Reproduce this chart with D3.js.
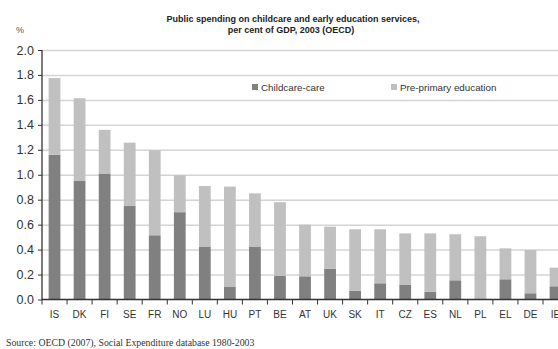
<!DOCTYPE html>
<html>
<head>
<meta charset="utf-8">
<script src="https://cdn.jsdelivr.net/npm/d3@7"></script>
<style>
  html, body { margin: 0; padding: 0; background: #fff; overflow: hidden; }
  svg { display: block; font-family: "Liberation Sans", Arial, sans-serif; }
  .grid line { stroke: #d4d4d4; stroke-width: 1.5; }
  .grid .domain { display: none; }
  .axis text { fill: #333; }
  .axis line, .axis path { stroke: #333; }
</style>
</head>
<body>
<div id="chart"></div>
<script>
// Data
var COUNTRIES = ["IS", "DK", "FI", "SE", "FR", "NO", "LU", "HU", "PT", "BE", "AT",
  "UK", "SK", "IT", "CZ", "ES", "NL", "PL", "EL", "DE", "IE"];
var CHILDCARE = [1.16, 0.95, 1.01, 0.75, 0.515, 0.70, 0.425, 0.10, 0.425, 0.19, 0.186,
  0.247, 0.071, 0.13, 0.12, 0.063, 0.154, 0.0, 0.162, 0.05, 0.106];
var TOTAL = [1.775, 1.613, 1.36, 1.257, 1.196, 0.996, 0.91, 0.905, 0.851, 0.78, 0.60,
  0.584, 0.563, 0.563, 0.53, 0.53, 0.523, 0.507, 0.41, 0.397, 0.255];
var Y_TICKS = [0, 0.2, 0.4, 0.6, 0.8, 1.0, 1.2, 1.4, 1.6, 1.8, 2.0];
var SERIES = ["Childcare-care", "Pre-primary education"];
var COLORS = ["#808080", "#c0c0c0"];

var width = 558, height = 349;
var margins = { top: 50, left: 42, bottom: 49.5 };
var step = 25.05;
var chartWidth = step * COUNTRIES.length;
var chartHeight = height - margins.top - margins.bottom;

var data = COUNTRIES.map(function(c, i) {
  return { country: c, childcare: CHILDCARE[i], preprimary: TOTAL[i] - CHILDCARE[i] };
});

var svg = d3.select("#chart").append("svg")
  .attr("width", width)
  .attr("height", height);

// Title
var title = svg.append("text")
  .attr("text-anchor", "middle")
  .attr("font-size", 9)
  .attr("font-weight", "bold")
  .attr("fill", "#222");
title.append("tspan").attr("x", 293).attr("y", 22)
  .text("Public spending on childcare and early education services,");
title.append("tspan").attr("x", 291).attr("y", 33)
  .text("per cent of GDP, 2003 (OECD)");

svg.append("text")
  .attr("x", 16).attr("y", 33)
  .attr("font-size", 9)
  .attr("fill", "#555")
  .text("%");

var chart = svg.append("g")
  .attr("transform", "translate(" + margins.left + "," + margins.top + ")");

var xScale = d3.scaleBand()
  .domain(COUNTRIES)
  .range([0, chartWidth])
  .paddingInner(0.53)
  .paddingOuter(0.265);

var yScale = d3.scaleLinear()
  .domain([0, 2])
  .range([chartHeight, 0]);

// Grid
chart.append("g")
  .attr("class", "grid")
  .call(d3.axisLeft(yScale).tickValues(Y_TICKS.slice(1)).tickSize(-chartWidth).tickFormat(""));

// Stacked bars
var stack = d3.stack().keys(["childcare", "preprimary"]);
var layers = stack(data);

chart.append("g")
  .selectAll("g")
  .data(layers)
  .enter()
  .append("g")
  .attr("fill", (d, i) => COLORS[i])
  .selectAll("rect")
  .data(d => d)
  .enter()
  .append("rect")
  .attr("x", d => xScale(d.data.country))
  .attr("y", d => yScale(d[1]))
  .attr("width", xScale.bandwidth())
  .attr("height", d => yScale(d[0]) - yScale(d[1]));

// Y axis
var yAxis = chart.append("g")
  .attr("class", "axis")
  .call(d3.axisLeft(yScale).tickValues(Y_TICKS).tickSize(4).tickPadding(4)
    .tickFormat(d3.format(".1f")));
yAxis.selectAll("text").attr("font-size", 12.5);
yAxis.select(".domain").attr("d", "M0,0V" + chartHeight).attr("stroke-width", 1.3);

// X axis: ticks between categories
var xAxis = chart.append("g")
  .attr("class", "axis")
  .attr("transform", "translate(0," + chartHeight + ")")
  .call(d3.axisBottom(xScale).tickSize(0).tickPadding(11));
xAxis.select(".domain").attr("d", "M0,0H" + chartWidth).attr("stroke-width", 1.3);
xAxis.selectAll("text").attr("font-size", 10);

xAxis.selectAll(".sep")
  .data(d3.range(COUNTRIES.length + 1))
  .enter()
  .append("line")
  .attr("x1", i => i * xScale.step())
  .attr("x2", i => i * xScale.step())
  .attr("y1", 0)
  .attr("y2", 5)
  .attr("stroke", "#333");

// Legend
var legendX = [252, 391];
var legend = svg.append("g").selectAll("g")
  .data(SERIES)
  .enter()
  .append("g")
  .attr("transform", (d, i) => "translate(" + legendX[i] + ",84)");
legend.append("rect")
  .attr("width", 6).attr("height", 6)
  .attr("fill", (d, i) => COLORS[i]);
legend.append("text")
  .attr("x", 9).attr("y", 6.8)
  .attr("font-size", 9.8)
  .attr("fill", "#333")
  .text(d => d);

// Source
svg.append("text")
  .attr("x", 6).attr("y", 346)
  .attr("font-family", "Liberation Serif, serif")
  .attr("font-size", 9.8)
  .attr("fill", "#333")
  .text("Source: OECD (2007), Social Expenditure database 1980-2003");
</script>
</body>
</html>
